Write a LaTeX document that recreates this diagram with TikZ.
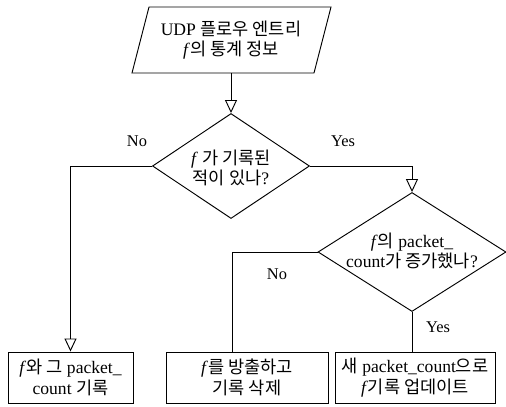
\documentclass[tikz,border=0pt]{standalone}
\usepackage{fontspec}
\setmainfont{Liberation Serif}
\newfontfamily\kr{Noto Sans CJK KR}
\usetikzlibrary{shapes.geometric,arrows.meta,calc}

\begin{document}
\begin{tikzpicture}[x=0.03cm, y=-0.03cm, line width=0.8pt,
    txt/.style={align=center, inner sep=0pt, font=\fontsize{15}{17.5}\selectfont},
    dia/.style={draw, diamond, inner sep=0pt},
    box/.style={draw, rectangle, minimum height=1.53cm, inner sep=0pt},
    flow/.style={-{Triangle[open, length=0.39cm, width=0.36cm]}},
    lbl/.style={font=\fontsize{14}{15}\selectfont, inner sep=0pt}]
    \def\ko#1{{\kr #1}}
    \useasboundingbox (0,0) rectangle (506,406);

    % Input
    \draw (149,7) -- (331,7) -- (314,73) -- (132,73) -- cycle;
    \node[txt, minimum height=1.98cm] (src) at (231,40) {UDP \ko{플로우 엔트리}\\\textit{f}\ko{의 통계 정보}};

    % Decisions
    \node[dia, minimum width=4.71cm, minimum height=3.15cm] (q1) at (231,166) {};
    \node[txt] (q1t) at (231,168) {\textit{f} \ko{가 기록된}\\\ko{적이 있나}?};
    \node[dia, minimum width=5.64cm, minimum height=3.57cm] (q2) at (412,252) {};
    \node[txt] (q2t) at (412,251) {\textit{f}\ko{의} packet\_\\count\ko{가 증가했나}?};

    % Results
    \node[box, minimum width=3.75cm] (b1) at (70.5,377.5) {};
    \node[txt] (b1t) at (b1) {\textit{f}\ko{와 그} packet\_\\count \ko{기록}};
    \node[box, minimum width=4.86cm] (b2) at (247,377.5) {};
    \node[txt] (b2t) at (b2) {\textit{f}\ko{를 방출하고}\\\ko{기록 삭제}};
    \node[box, minimum width=4.8cm] (b3) at (415,377.5) {};
    \node[txt] (b3t) at (b3) {\ko{새} packet\_count\ko{으로}\\\textit{f}\ko{기록 업데이트}};

    % Connectors
    \draw[flow] (src.south) -- (q1.north);
    \draw[flow] (q1.west) -| (b1.north);
    \draw[flow] (q1.east) -| (q2.north);
    \draw (q2.west) -| ($(b2.north)+(-15,0)$);
    \draw (q2.south) -- (q2.south |- b3.north);

    \node[lbl] (no1) at (137,141) {No};
    \node[lbl] (yes1) at (343,141) {Yes};
    \node[lbl] (no2) at (277,274) {No};
    \node[lbl] (yes2) at (438,327) {Yes};
\end{tikzpicture}
\end{document}
